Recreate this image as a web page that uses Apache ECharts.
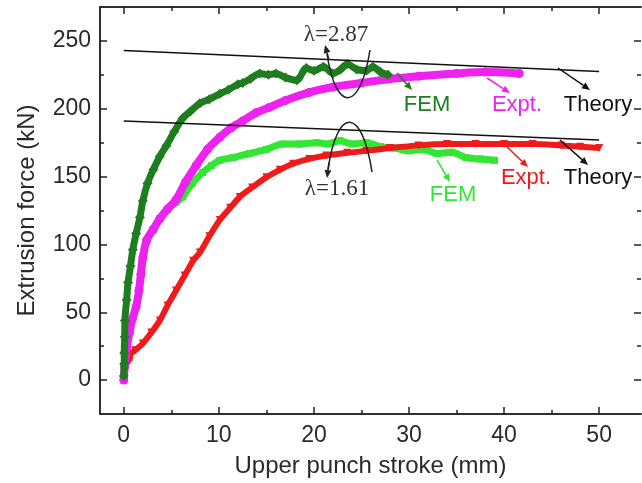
<!DOCTYPE html>
<html><head><meta charset="utf-8">
<script src="https://cdn.jsdelivr.net/npm/echarts@6/dist/echarts.min.js"></script>
<style>html,body{margin:0;padding:0;background:#fff}#c{width:642px;height:483px}</style>
</head><body><div id="c"></div>
<script>
// ---- data ----
const xMajor = [0, 10, 20, 30, 40, 50];
const xMinor = [5, 15, 25, 35, 45];
const yMajor = [0, 50, 100, 150, 200, 250];
const yMinor = [25, 75, 125, 175, 225];

// FEM, lambda = 2.87 (dark green)
const femHigh = [[0,3],[0.05,12],[0.05,20],[0.1,32],[0.12,44],[0.3,59],[0.45,72],[0.7,84],[0.95,96],[1.3,108],[1.7,120],[2.0,132],[2.5,145],[3.1,155],[3.8,165],[4.5,173],[5.3,183],[6.2,193],[7.0,198],[8.0,204],[9.0,207],[10.1,211],[11.0,214],[12.0,218],[12.5,219],[13.3,222],[14.3,226],[15.2,225],[16.0,226],[17.0,223],[18.2,221],[19.2,230],[20.0,228],[21.0,231],[22.0,226],[22.8,229],[23.5,233],[24.5,229],[25.5,228],[26.2,231],[27.0,227],[27.8,225]];
// Expt., lambda = 2.87 (magenta)
const exptHigh = [[0,0],[0.1,10],[0.3,24],[0.6,35],[0.9,45],[1.3,54],[1.6,66],[1.8,78],[2.0,90],[2.4,103],[3.1,111],[3.8,119],[4.6,126],[5.5,133],[6.5,146],[7.6,158],[8.8,170],[10.1,179],[11.3,186],[12.5,191],[13.9,197],[15.3,201],[17.0,206],[19.5,212],[22.0,216],[25.0,219],[28.0,222],[31.0,224],[35.0,226],[38.0,227],[41.6,226]];
// FEM, lambda = 1.61 (light green) - early part runs underneath the magenta curve
const femLow = [[0,0],[0.1,10],[0.3,24],[0.6,35],[0.9,45],[1.3,54],[1.6,66],[1.8,78],[2.0,90],[2.4,103],[3.1,111],[3.8,119],[4.6,126],[5.5,131],[6.2,135],[7.2,145],[8.3,153],[9.2,158],[10.1,162],[11.5,164],[13.2,167],[15.0,170],[16.7,174],[18.5,174],[20.3,175],[21.5,174],[22.7,176.5],[24.0,174],[25.5,175],[27.0,172],[28.5,171],[30.0,169],[31.5,170],[33.0,167],[34.5,168],[36.0,164],[37.5,163],[39.0,162]];
// Expt., lambda = 1.61 (red)
const exptLow = [[0.6,14],[0.7,19],[1.2,22],[2.0,27],[2.9,35],[3.8,44],[4.6,55],[5.5,66],[6.4,77],[7.3,88],[8.0,94],[9.0,106],[10.1,118],[11.2,127],[12.2,135],[13.5,142],[15.0,149.5],[16.4,155],[17.8,159.5],[19.5,163],[21.3,165.5],[23.5,167.5],[25.5,169],[28.0,171],[31.0,173],[34.0,174],[37.0,174],[40.0,174],[43.0,174],[46.0,173],[48.0,172],[50.0,171]];
// Theory lines
const theoryHigh = [[0,243],[50,227.5]];
const theoryLow = [[0,191],[50,177]];

// ---- chart ----
const FONT = 'Liberation Sans, Arial, sans-serif';
const chart = echarts.init(document.getElementById('c'), null, {renderer: 'canvas'});

function xAx(position, ticks, len, showLabel, extra) {
  return Object.assign({
    type: 'value', position: position, min: -2.5, max: 54.4,
    axisLine: {show: true, onZero: false, lineStyle: {color: '#222', width: 1.5}},
    axisTick: {show: true, inside: true, length: len, customValues: ticks, lineStyle: {color: '#222', width: 1.5}},
    axisLabel: {show: showLabel, customValues: ticks, fontSize: 23, fontFamily: FONT, color: '#2a2a2a', margin: 10},
    splitLine: {show: false}
  }, extra || {});
}
function yAx(position, ticks, len, showLabel, extra) {
  return Object.assign({
    type: 'value', position: position, min: -25, max: 275,
    axisLine: {show: true, onZero: false, lineStyle: {color: '#222', width: 1.5}},
    axisTick: {show: true, inside: true, length: len, customValues: ticks, lineStyle: {color: '#222', width: 1.5}},
    axisLabel: {show: showLabel, customValues: ticks, fontSize: 23, fontFamily: FONT, color: '#2a2a2a', margin: 9},
    splitLine: {show: false}
  }, extra || {});
}

function curve(data, color, symbol, size, width, z, rot) {
  return {
    type: 'line', data: data, symbol: symbol, symbolSize: size, symbolRotate: rot || 0,
    showAllSymbol: true, smooth: 0.3, z: z, silent: true,
    lineStyle: {color: color, width: width}, itemStyle: {color: color, borderWidth: 0}
  };
}

const hiddenLine = {show: true, onZero: false, lineStyle: {color: '#222', width: 1.5, opacity: 0}};
const option = {
  animation: false,
  backgroundColor: '#fff',
  grid: {left: 100, right: 1, top: 7, bottom: 69},
  xAxis: [
    xAx('bottom', xMajor, 7, true, {name: 'Upper punch stroke (mm)', nameLocation: 'middle', nameGap: 40,
        nameTextStyle: {fontSize: 24, fontFamily: FONT, color: '#2a2a2a'}}),
    xAx('bottom', xMinor, 4, false),
    xAx('top', xMajor, 7, false),
    xAx('top', xMinor, 4, false)
  ],
  yAxis: [
    yAx('left', yMajor, 7, true, {name: 'Extrusion force (kN)', nameLocation: 'middle', nameGap: 61,
        nameTextStyle: {fontSize: 24, fontFamily: FONT, color: '#2a2a2a'}}),
    yAx('left', yMinor, 4, false),
    yAx('right', yMajor, 7, false, {axisLine: hiddenLine}),
    yAx('right', yMinor, 4, false, {axisLine: hiddenLine})
  ],
  series: [
    curve(femLow, '#33e633', 'rect', 7, 7, 2),
    curve(exptLow, '#f01a1a', 'triangle', 8, 6, 3, 180),
    curve(exptHigh, '#ee22ee', 'circle', 9, 8, 4),
    curve(femHigh, '#1e7d1e', 'diamond', 10, 7, 5),
    {type: 'line', data: theoryHigh, symbol: 'none', z: 10, silent: true, lineStyle: {color: '#111', width: 1.5}},
    {type: 'line', data: theoryLow, symbol: 'none', z: 10, silent: true, lineStyle: {color: '#111', width: 1.5}}
  ]
};
chart.setOption(option);

// ---- annotations (pixel positions) ----
function arrow(x1, y1, x2, y2, color) {
  const dx = x2 - x1, dy = y2 - y1, L = Math.hypot(dx, dy);
  const ux = dx / L, uy = dy / L, h = 8, w = 3.5;
  const bx = x2 - ux * h, by = y2 - uy * h;
  return [
    {type: 'line', z: 20, shape: {x1: x1, y1: y1, x2: bx, y2: by}, style: {stroke: color, lineWidth: 1.5}},
    {type: 'polygon', z: 20, shape: {points: [[x2, y2], [bx - uy * w, by + ux * w], [bx + uy * w, by - ux * w]]}, style: {fill: color}}
  ];
}
function label(text, x, y, color, serif) {
  return {type: 'text', z: 20, x: x, y: y, style: {text: text, fill: color, fontSize: serif ? 23 : 22,
    fontFamily: serif ? 'Liberation Serif, Times New Roman, serif' : FONT, align: 'center', verticalAlign: 'middle'}};
}
const g = [];
g.push(label('λ=2.87', 336, 35, '#333', true));
g.push(label('λ=1.61', 337, 189, '#333', true));
g.push({type: 'bezierCurve', z: 20, shape: {x1: 327, y1: 54, cpx1: 336, cpy1: 113, cpx2: 360, cpy2: 113, x2: 370, y2: 50}, style: {stroke: '#222', lineWidth: 1.5, fill: null}});
g.push(...arrow(329, 60, 325, 45, '#222'));
g.push({type: 'bezierCurve', z: 20, shape: {x1: 328, y1: 170, cpx1: 337, cpy1: 106, cpx2: 362, cpy2: 106, x2: 372, y2: 172}, style: {stroke: '#222', lineWidth: 1.5, fill: null}});
g.push(...arrow(329, 162, 327, 178, '#222'));

g.push(...arrow(397, 73, 412, 90, '#1e7d1e'));
g.push(label('FEM', 427, 105, '#1e7d1e'));
g.push(...arrow(487, 78, 510, 93, '#ee22ee'));
g.push(label('Expt.', 517, 105, '#ee22ee'));
g.push(...arrow(558, 68, 590, 90, '#111'));
g.push(label('Theory', 598, 105, '#111'));

g.push(...arrow(437, 160, 450, 182, '#33e633'));
g.push(label('FEM', 453, 195, '#33e633'));
g.push(...arrow(505, 145, 528, 167, '#f01a1a'));
g.push(label('Expt.', 526, 178, '#f01a1a'));
g.push(...arrow(560, 140, 588, 165, '#111'));
g.push(label('Theory', 598, 178, '#111'));

chart.setOption({graphic: g});
</script></body></html>
